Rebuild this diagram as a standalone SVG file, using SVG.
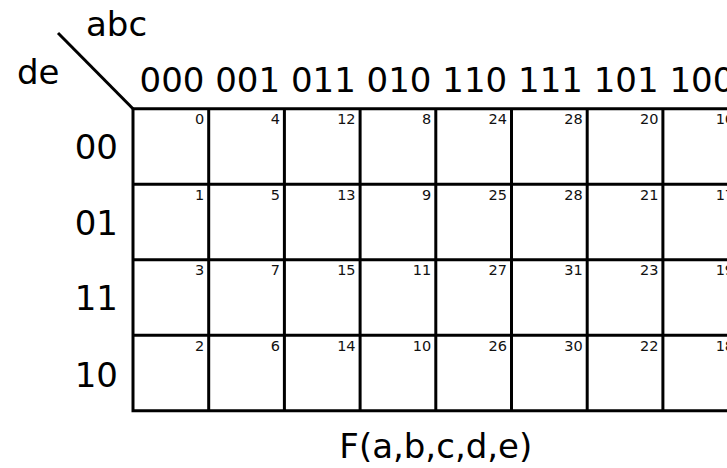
<svg xmlns="http://www.w3.org/2000/svg" width="727" height="468" viewBox="0 0 727 468">
<style>
.big{font-family:"DejaVu Sans",sans-serif;font-size:34px;fill:#000}
.idx{font-family:"DejaVu Sans",sans-serif;font-size:14.5px;fill:#111;text-anchor:end}
.ln{stroke:#000;stroke-width:3;fill:none;stroke-linecap:square}
</style>
<rect width="727" height="468" fill="#fff"/>
<g id="corner">
<line class="ln" x1="58" y1="33" x2="133" y2="108.7" style="stroke-linecap:butt"/>
<text class="big" x="86" y="36">abc</text>
<text class="big" x="17" y="84">de</text>
</g>
<g id="col-labels">
<text class="big" x="139.5" y="92">000 001 011 010 110 111 101 100</text>
</g>
<g id="row-labels">
<text class="big" x="118" y="159" text-anchor="end">00</text>
<text class="big" x="118" y="235" text-anchor="end">01</text>
<text class="big" x="118" y="310" text-anchor="end">11</text>
<text class="big" x="118" y="386.5" text-anchor="end">10</text>
</g>
<g id="grid">
<path class="ln" d="M133,108.7H745M133,184.2H745M133,259.7H745M133,335.2H745M133,410.7H745M133,108.7V410.7M208.7,108.7V410.7M284.4,108.7V410.7M360.1,108.7V410.7M435.8,108.7V410.7M511.5,108.7V410.7M587.2,108.7V410.7M662.9,108.7V410.7M738.6,108.7V410.7"/>
</g>
<g id="row-00">
<text class="idx" x="204.2" y="124.2">0</text>
<text class="idx" x="279.9" y="124.2">4</text>
<text class="idx" x="355.6" y="124.2">12</text>
<text class="idx" x="431.3" y="124.2">8</text>
<text class="idx" x="507" y="124.2">24</text>
<text class="idx" x="582.7" y="124.2">28</text>
<text class="idx" x="658.4" y="124.2">20</text>
<text class="idx" x="734.1" y="124.2">16</text>
</g>
<g id="row-01">
<text class="idx" x="204.2" y="199.7">1</text>
<text class="idx" x="279.9" y="199.7">5</text>
<text class="idx" x="355.6" y="199.7">13</text>
<text class="idx" x="431.3" y="199.7">9</text>
<text class="idx" x="507" y="199.7">25</text>
<text class="idx" x="582.7" y="199.7">28</text>
<text class="idx" x="658.4" y="199.7">21</text>
<text class="idx" x="734.1" y="199.7">17</text>
</g>
<g id="row-11">
<text class="idx" x="204.2" y="275.2">3</text>
<text class="idx" x="279.9" y="275.2">7</text>
<text class="idx" x="355.6" y="275.2">15</text>
<text class="idx" x="431.3" y="275.2">11</text>
<text class="idx" x="507" y="275.2">27</text>
<text class="idx" x="582.7" y="275.2">31</text>
<text class="idx" x="658.4" y="275.2">23</text>
<text class="idx" x="734.1" y="275.2">19</text>
</g>
<g id="row-10">
<text class="idx" x="204.2" y="350.7">2</text>
<text class="idx" x="279.9" y="350.7">6</text>
<text class="idx" x="355.6" y="350.7">14</text>
<text class="idx" x="431.3" y="350.7">10</text>
<text class="idx" x="507" y="350.7">26</text>
<text class="idx" x="582.7" y="350.7">30</text>
<text class="idx" x="658.4" y="350.7">22</text>
<text class="idx" x="734.1" y="350.7">18</text>
</g>
<g id="function-label">
<text class="big" x="435.8" y="458" text-anchor="middle">F(a,b,c,d,e)</text>
</g>
</svg>
